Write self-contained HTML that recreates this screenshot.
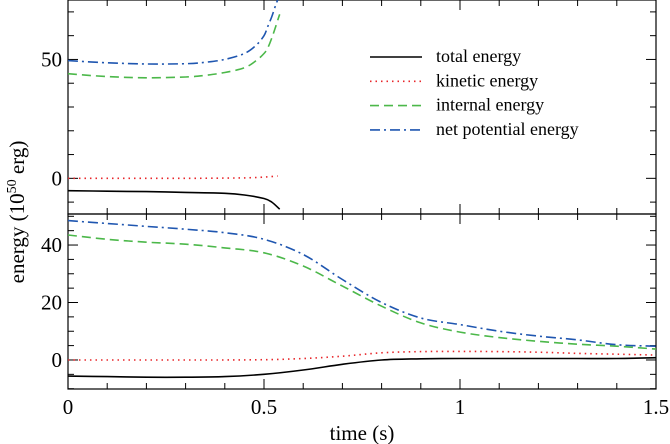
<!DOCTYPE html>
<html><head><meta charset="utf-8"><style>
body{margin:0;background:#fff}
svg{display:block;font-family:"Liberation Serif",serif}
</style></head><body>
<svg id="c" width="670" height="444"></svg>
<script>
const topPotT=[0,0.1,0.2,0.3,0.35,0.4,0.45,0.48,0.5,0.51,0.52,0.53,0.535];
const topPot=[49.5,48.6,48.1,48.2,48.8,50,52.5,56,60,64,68,73,75];
const topIntT=[0,0.1,0.2,0.3,0.35,0.4,0.45,0.48,0.5,0.51,0.52,0.53,0.54];
const topInt=[44,42.8,42.3,42.6,43.3,44.5,46.5,49.5,52.5,55,59,64,69];
const topKinT=[0,0.1,0.2,0.3,0.4,0.45,0.5,0.535];
const topKin=[0,0,0,0,0.1,0.2,0.5,1];
const topTotT=[0,0.1,0.2,0.3,0.4,0.45,0.5,0.52,0.54];
const topTot=[-5.2,-5.4,-5.6,-5.9,-6.3,-7,-8.5,-10,-13];
const botT=[0,0.1,0.2,0.3,0.4,0.5,0.6,0.7,0.8,0.9,1.0,1.1,1.2,1.3,1.4,1.5];
const botPot=[48.5,47.5,46.5,45.5,44.3,42,36.7,28,20,14.6,12.3,10,8.3,7,5.3,4.8];
const botInt=[43.5,42,41,40.3,39,37.3,32.7,25.7,18.7,12.9,9.7,7.8,6.5,5.5,4.8,3.8];
const botKin=[0,0,0,0,0,0.1,0.5,1.3,2.5,2.9,3,2.9,2.7,2.3,2,1.7];
const botTot=[-5.6,-5.8,-6,-6,-5.8,-5,-3.5,-1.5,0,0.4,0.5,0.5,0.5,0.5,0.5,0.8];
const xTicks=[0,0.5,1,1.5];const xTickLabels=["0","0.5","1","1.5"];
const topYTicks=[0,50];const botYTicks=[0,20,40];
const legendLabels=["total energy","kinetic energy","internal energy","net potential energy"];

const svg=document.getElementById('c');const NS='http://www.w3.org/2000/svg';
function el(t,a,p){const e=document.createElementNS(NS,t);for(const k in a)e.setAttribute(k,a[k]);(p||svg).appendChild(e);return e;}
const X0=68,X1=656;const x=t=>X0+(t/1.5)*(X1-X0);
const TOP={y0:0,y1:214,lo:-15,hi:75};const BOT={y0:214,y1:389,lo:-10.1,hi:50.8};
const yf=P=>v=>P.y1-(v-P.lo)/(P.hi-P.lo)*(P.y1-P.y0);
const yt=yf(TOP),yb=yf(BOT);
const styles=[{c:'#000',d:''},{c:'#e8262a',d:'1.5 4'},{c:'#4cb84a',d:'9 5'},{c:'#1f56b0',d:'10 4 2 4'}];
function smooth(p){let d='M'+p[0][0].toFixed(1)+','+p[0][1].toFixed(1);
 for(let i=0;i<p.length-1;i++){const a=p[i-1]||p[i],b=p[i],c=p[i+1],e=p[i+2]||c;
  const c1=[b[0]+(c[0]-a[0])/6,b[1]+(c[1]-a[1])/6],c2=[c[0]-(e[0]-b[0])/6,c[1]-(e[1]-b[1])/6];
  d+='C'+c1.map(v=>v.toFixed(1))+' '+c2.map(v=>v.toFixed(1))+' '+c.map(v=>v.toFixed(1));}
 return d;}
function line(ts,vs,fy,s,name){const e=el('path',{d:smooth(ts.map((t,i)=>[x(t),fy(vs[i])])),fill:'none',stroke:s.c,'stroke-width':1.6,'stroke-dasharray':s.d});

}
[[TOP,yt,topYTicks,10,'top'],[BOT,yb,botYTicks,5,'bottom']].forEach(([P,fy,yt2,minor,nm])=>{
 const r=el('rect',{x:X0,y:P.y0,width:X1-X0,height:P.y1-P.y0,fill:'none',stroke:'#000','stroke-width':1.2});
 
 
 for(let t=0;t<=1.5001;t+=0.1){const L=Math.abs(t*2-Math.round(t*2))<1e-6?10:6;
  el('line',{x1:x(t),x2:x(t),y1:P.y1,y2:P.y1-L,stroke:'#000'});el('line',{x1:x(t),x2:x(t),y1:P.y0,y2:P.y0+L,stroke:'#000'});}
 for(let v=Math.ceil(P.lo/minor)*minor;v<=P.hi;v+=minor){const L=yt2.includes(v)?10:6;
  el('line',{x1:X0,x2:X0+L,y1:fy(v),y2:fy(v),stroke:'#000'});el('line',{x1:X1,x2:X1-L,y1:fy(v),y2:fy(v),stroke:'#000'});}
 yt2.forEach(v=>{const tx=el('text',{x:X0-6,y:fy(v)+7,'text-anchor':'end','font-size':21});tx.textContent=v;
  
  });
});
xTicks.forEach((t,i)=>{const tx=el('text',{x:x(t),y:414,'text-anchor':'middle','font-size':21});tx.textContent=xTickLabels[i];
 
 });
const xl=el('text',{x:362,y:440,'text-anchor':'middle','font-size':21});xl.textContent='time (s)';


const yl=el('text',{x:0,y:0,'text-anchor':'middle','font-size':21,transform:'translate(24,212) rotate(-90)'});
yl.innerHTML='energy (10<tspan dy="-8" font-size="14">50</tspan><tspan dy="8"> erg)</tspan>';


line(topTotT,topTot,yt,styles[0],'top-total-line');line(topKinT,topKin,yt,styles[1],'top-kinetic-line');
line(topIntT,topInt,yt,styles[2],'top-internal-line');line(topPotT,topPot,yt,styles[3],'top-potential-line');
line(botT,botTot,yb,styles[0],'bottom-total-line');line(botT,botKin,yb,styles[1],'bottom-kinetic-line');
line(botT,botInt,yb,styles[2],'bottom-internal-line');line(botT,botPot,yb,styles[3],'bottom-potential-line');
legendLabels.forEach((l,i)=>{const g=el('g',{});
 const yy=57+i*24.3;el('line',{x1:370,x2:422,y1:yy,y2:yy,stroke:styles[i].c,'stroke-width':1.6,'stroke-dasharray':styles[i].d},g);
 const tx=el('text',{x:436,y:yy+5,'font-size':18},g);tx.textContent=l;});
</script></body></html>
